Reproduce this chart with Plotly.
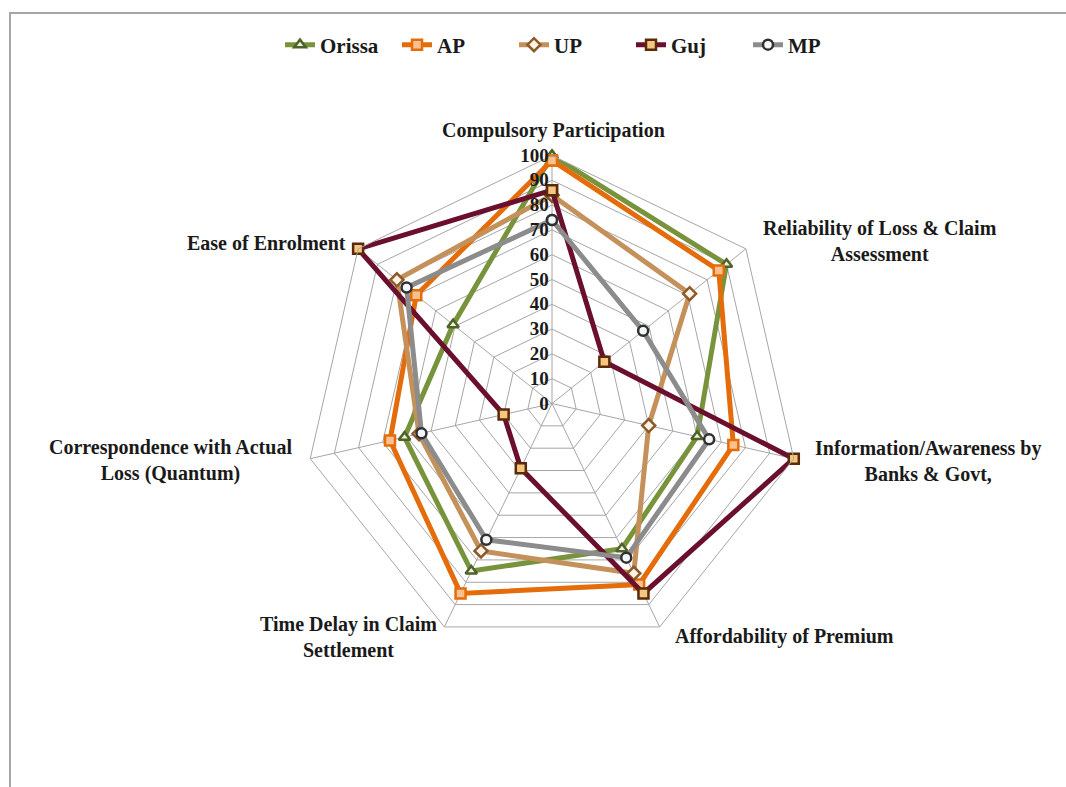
import plotly.graph_objects as go

categories = [
    "Compulsory Participation",
    "Reliability of Loss & Claim Assessment",
    "Information/Awareness by Banks & Govt,",
    "Affordability of Premium",
    "Time Delay in Claim Settlement",
    "Correspondence with Actual Loss (Quantum)",
    "Ease of Enrolment",
]
# label text as displayed (with line breaks)
category_labels = [
    "Compulsory Participation",
    "Reliability of Loss & Claim<br>Assessment",
    "Information/Awareness by<br>Banks & Govt,",
    "Affordability of Premium",
    "Time Delay in Claim<br>Settlement",
    "Correspondence with Actual<br>Loss (Quantum)",
    "Ease of Enrolment",
]

orissa = [100, 90, 60, 65, 75, 61, 51]
ap = [98, 86, 75, 81, 85, 67, 70]
up = [84, 71, 40, 76, 66, 55, 80]
guj = [86, 27, 100, 85, 29, 20, 100]
mp = [74, 47, 65, 69, 61, 54, 75]

radial_ticks = [0, 10, 20, 30, 40, 50, 60, 70, 80, 90, 100]

series = [
    ("Orissa", orissa, "#77933C", "triangle-up", "#EBF1DE", "#4F6228"),
    ("AP", ap, "#E46C0A", "square", "#FAC090", "#E46C0A"),
    ("UP", up, "#C4915A", "diamond", "#FDF3E7", "#8B5A2B"),
    ("Guj", guj, "#6A0F2E", "square", "#F5C77E", "#5A2A0A"),
    ("MP", mp, "#8C8C8C", "circle", "#F2F7FB", "#303030"),
]

fig = go.Figure()
for name, vals, lc, sym, mfill, mline in series:
    fig.add_trace(go.Scatterpolar(
        r=vals + [vals[0]],
        theta=categories + [categories[0]],
        name=name,
        mode="lines+markers",
        line=dict(color=lc, width=5),
        marker=dict(symbol=sym, size=10, color=mfill,
                    line=dict(color=mline, width=2.5)),
    ))

serif = "Liberation Serif"
W, H = 1066, 787
# label anchor positions in pixels (layout only)
label_pos = [(553, 130), (880, 241), (928, 461), (784, 636),
             (348, 637), (170, 461), (266, 243)]

annotations = []
for txt, (px, py) in zip(category_labels, label_pos):
    annotations.append(dict(
        text=txt, x=px / W, y=1 - py / H, xref="paper", yref="paper",
        xanchor="center", yanchor="middle", align="center", showarrow=False,
        font=dict(family=serif, size=20, weight="bold", color="#1a1a1a"),
    ))

fig.update_layout(
    width=W, height=H,
    margin=dict(l=0, r=0, t=0, b=0),
    paper_bgcolor="white",
    font=dict(family=serif, color="#1a1a1a", size=17, weight="bold"),
    polar=dict(
        domain=dict(x=[(552 - 248) / W, (552 + 248) / W],
                    y=[(383.5 - 248) / H, (383.5 + 248) / H]),
        bgcolor="white",
        gridshape="linear",
        radialaxis=dict(
            range=[0, 100], tickvals=radial_ticks, angle=90, tickangle=90,
            side="counterclockwise", showline=False, ticks="",
            gridcolor="#A6A6A6", gridwidth=1,
            tickfont=dict(family=serif, size=19, weight="bold", color="#1a1a1a"),
        ),
        angularaxis=dict(
            direction="clockwise", rotation=90, ticks="",
            showline=True, linecolor="#A6A6A6", linewidth=1,
            gridcolor="#A6A6A6", gridwidth=1, showticklabels=False,
        ),
    ),
    showlegend=True,
    legend=dict(
        orientation="h", x=280 / W, xanchor="left", y=1 - 45 / H, yanchor="middle",
        font=dict(family=serif, size=21, weight="bold", color="#1a1a1a"),
        bgcolor="rgba(0,0,0,0)", entrywidth=72, entrywidthmode="pixels",
    ),
    annotations=annotations,
    shapes=[dict(type="rect", xref="paper", yref="paper",
                 x0=10 / W, x1=1.02, y0=-0.02, y1=1 - 13 / H,
                 line=dict(color="#A6A6A6", width=2), layer="below")],
)

fig.write_html("out.html")
